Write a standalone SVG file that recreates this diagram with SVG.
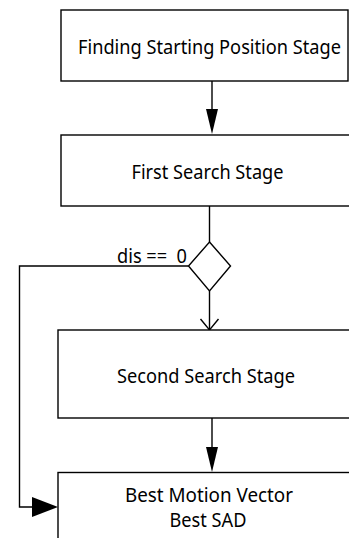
<svg xmlns="http://www.w3.org/2000/svg" width="349" height="538" viewBox="0 0 349 538">
<style>
.box{fill:#fff;stroke:#000;stroke-width:1.4}
.ln{fill:none;stroke:#000;stroke-width:1.4}
.hd{fill:#000;stroke:none}
text{font-family:"Noto Sans","Open Sans",sans-serif;font-size:19.5px;fill:#000;text-anchor:middle}
</style>
<rect width="349" height="538" fill="#fff"/>
<g id="connectors">
<line class="ln" x1="212" y1="81" x2="212" y2="112"/>
<polygon class="hd" points="206,109 218,109 212,134"/>
<line class="ln" x1="209.5" y1="206" x2="209.5" y2="242"/>
<line class="ln" x1="209.5" y1="291" x2="209.5" y2="330"/>
<polyline class="ln" points="200.5,319 209.5,330 218.5,319"/>
<line class="ln" x1="212" y1="418" x2="212" y2="450"/>
<polygon class="hd" points="206,447 218,447 212,472"/>
<polyline class="ln" points="188.5,266 19.5,266 19.5,507 35,507"/>
<polygon class="hd" points="32,497 32,517 58,507"/>
<text x="117" y="262.5" xml:space="preserve" style="text-anchor:start;white-space:pre" textLength="70" lengthAdjust="spacingAndGlyphs">dis ==  0</text>
</g>
<g id="n1">
<rect class="box" x="61" y="10" width="287" height="71"/>
<text x="209.5" y="54" textLength="263" lengthAdjust="spacingAndGlyphs">Finding Starting Position Stage</text>
</g>
<g id="n2">
<rect class="box" x="61" y="135" width="300" height="71"/>
<text x="207.5" y="179" textLength="152" lengthAdjust="spacingAndGlyphs">First Search Stage</text>
</g>
<g id="decision">
<polygon class="box" points="209.5,242 230.5,266 209.5,291 188.5,266"/>
</g>
<g id="n3">
<rect class="box" x="58" y="330" width="303" height="88"/>
<text x="206" y="382.5" textLength="178" lengthAdjust="spacingAndGlyphs">Second Search Stage</text>
</g>
<g id="n4">
<rect class="box" x="58" y="472.5" width="303" height="80"/>
<text x="209" y="501.5" textLength="168" lengthAdjust="spacingAndGlyphs">Best Motion Vector</text>
<text x="208" y="526.5" textLength="77" lengthAdjust="spacingAndGlyphs">Best SAD</text>
</g>
</svg>
